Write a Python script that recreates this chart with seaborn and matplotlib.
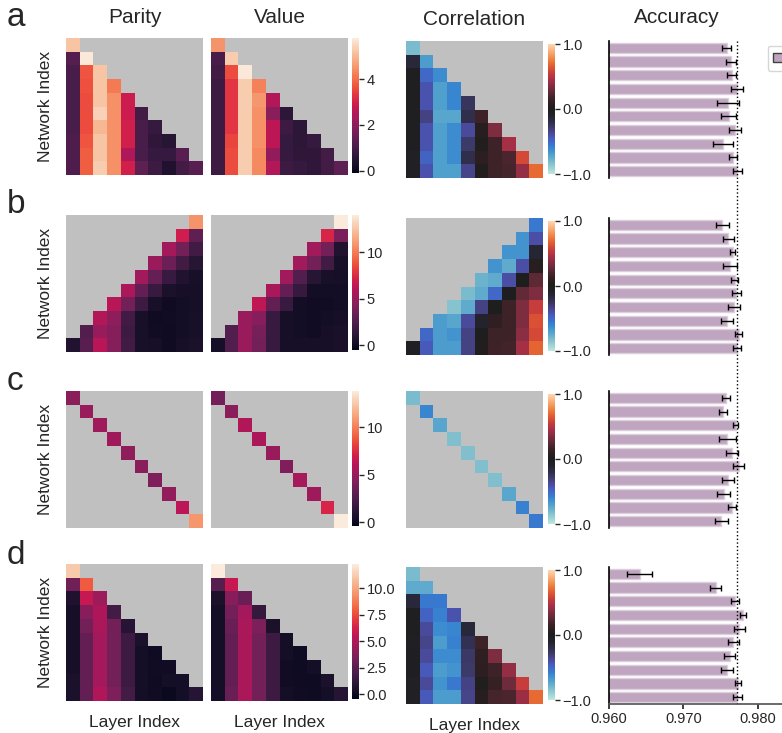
import numpy as np
import matplotlib
matplotlib.use("Agg")
import matplotlib.pyplot as plt
import seaborn as sns
from matplotlib.patches import Patch
from matplotlib.ticker import FuncFormatter

# ---------------------------------------------------------------- data
layers = list(range(10))
networks = list(range(10))

# a: lower triangle (network i spans layers 0..i)
parity_a = [
    [5.2],
    [1.2, 5.75],
    [1.05, 3.7, 5.2],
    [1.05, 3.65, 5.2, 4.15],
    [1.05, 3.6, 5.2, 4.45, 2.85],
    [1.05, 3.6, 5.4, 4.45, 2.85, 0.95],
    [1.05, 3.6, 5.0, 4.45, 2.95, 1.05, 0.75],
    [1.1, 3.7, 5.2, 4.45, 2.95, 1.05, 0.65, 0.5],
    [1.1, 3.8, 5.2, 4.45, 2.45, 1.05, 0.75, 0.75, 1.25],
    [1.1, 3.8, 5.3, 4.45, 2.95, 1.35, 0.85, 0.4, 0.95, 1.25],
]
value_a = [
    [4.5],
    [1.05, 5.3],
    [0.95, 3.6, 5.75],
    [0.85, 3.3, 5.3, 4.25],
    [0.85, 3.3, 5.3, 4.55, 2.5],
    [0.85, 3.3, 5.3, 4.45, 1.95, 0.6],
    [0.85, 3.3, 5.3, 4.45, 2.65, 0.85, 0.6],
    [0.85, 3.5, 5.3, 4.45, 2.65, 0.75, 0.6, 0.75],
    [0.85, 3.6, 5.3, 4.35, 2.05, 0.75, 0.65, 0.65, 0.95],
    [0.85, 3.6, 5.3, 4.35, 2.5, 0.85, 0.75, 0.65, 0.95, 1.35],
]
corr_a = [
    [-0.82],
    [-0.15, -0.68],
    [-0.03, -0.50, -0.62],
    [-0.03, -0.42, -0.70, -0.60],
    [-0.03, -0.42, -0.70, -0.60, -0.25],
    [-0.03, -0.33, -0.72, -0.72, -0.20, 0.15],
    [-0.03, -0.42, -0.70, -0.62, -0.38, 0.05, 0.35],
    [-0.04, -0.42, -0.70, -0.62, -0.28, 0.03, 0.15, 0.45],
    [-0.06, -0.48, -0.70, -0.62, -0.20, 0.08, 0.15, 0.20, 0.60],
    [-0.06, -0.42, -0.70, -0.70, -0.35, 0.03, 0.15, 0.18, 0.40, 0.70],
]

# b: upper-right triangle (network i spans layers 9-i..9)
parity_b = [
    [10.8],
    [6.9, 3.1],
    [5.4, 3.8, 2.0],
    [5.1, 3.5, 2.0, 1.0],
    [5.3, 3.3, 1.7, 0.8, 0.45],
    [5.6, 3.2, 1.7, 0.55, 0.35, 0.35],
    [6.1, 3.8, 1.8, 0.45, 0.1, 0.2, 0.35],
    [5.9, 4.7, 2.0, 0.45, 0.1, 0.15, 0.2, 0.45],
    [2.6, 5.0, 4.4, 1.8, 0.45, 0.15, 0.1, 0.2, 0.45],
    [0.8, 2.8, 6.1, 4.4, 2.0, 0.45, 0.35, 0.1, 0.35, 0.55],
]
value_b = [
    [14.0],
    [7.3, 4.0],
    [5.3, 3.8, 0.8],
    [5.3, 3.8, 2.0, 0.45],
    [5.3, 2.6, 1.0, 0.45, 0.35],
    [5.6, 3.2, 1.6, 0.2, 0.2, 0.2],
    [6.3, 3.2, 1.7, 0.2, 0.15, 0.15, 0.2],
    [5.1, 4.4, 1.7, 0.35, 0.2, 0.15, 0.2, 0.35],
    [2.6, 5.1, 3.9, 1.7, 0.35, 0.2, 0.15, 0.35, 0.5],
    [0.35, 2.6, 5.1, 3.8, 1.7, 0.35, 0.35, 0.35, 0.35, 0.5],
]
corr_b = [
    [-0.55],
    [-0.65, -0.40],
    [-0.65, -0.65, -0.13],
    [-0.65, -0.75, -0.40, 0.05],
    [-0.78, -0.75, -0.40, 0.00, 0.25],
    [-0.82, -0.75, -0.50, 0.00, 0.27, 0.35],
    [-0.85, -0.75, -0.33, 0.00, 0.15, 0.35, 0.55],
    [-0.68, -0.72, -0.38, -0.10, 0.10, 0.15, 0.35, 0.62],
    [-0.50, -0.68, -0.65, -0.33, 0.00, 0.15, 0.15, 0.38, 0.60],
    [-0.05, -0.45, -0.68, -0.68, -0.33, 0.03, 0.15, 0.17, 0.45, 0.68],
]

# c: diagonal only
parity_c = [4.5, 5.0, 5.25, 5.25, 4.75, 4.5, 4.2, 4.85, 6.2, 10.7]
value_c = [3.8, 4.5, 5.75, 5.55, 5.0, 4.2, 5.45, 5.25, 7.2, 13.8]
corr_c = [-0.82, -0.60, -0.72, -0.83, -0.83, -0.83, -0.83, -0.73, -0.58, -0.55]

# d: lower triangle
parity_d = [
    [11.2],
    [3.2, 7.9],
    [0.6, 5.8, 4.5],
    [0.3, 3.9, 5.0, 1.8],
    [0.3, 3.3, 4.9, 3.3, 0.8],
    [0.3, 2.8, 4.7, 3.3, 1.6, 0.45],
    [0.3, 2.8, 4.7, 3.3, 1.6, 0.2, 0.0],
    [0.3, 2.8, 4.7, 3.3, 1.6, 0.2, 0.1, 0.1],
    [0.45, 2.8, 4.7, 3.3, 1.6, 0.2, 0.0, 0.2, 0.2],
    [0.45, 2.8, 5.1, 3.6, 1.8, 0.2, 0.1, -0.1, 0.2, 0.8],
]
value_d = [
    [12.3],
    [2.4, 5.8],
    [0.45, 3.9, 3.0],
    [0.2, 3.3, 4.7, 1.3],
    [0.2, 3.0, 4.9, 3.6, 0.45],
    [0.2, 2.8, 4.9, 3.3, 1.6, 0.2],
    [0.2, 2.8, 4.9, 3.3, 1.6, 0.2, 0.0],
    [0.2, 2.8, 4.9, 3.3, 1.6, 0.1, 0.0, 0.2],
    [0.2, 2.8, 4.9, 3.3, 1.6, 0.1, 0.0, 0.0, 0.45],
    [0.2, 3.0, 4.9, 3.3, 1.6, 0.2, 0.1, 0.0, 0.2, 0.8],
]
corr_d = [
    [-0.82],
    [-0.75, -0.75],
    [-0.15, -0.55, -0.55],
    [-0.03, -0.48, -0.58, -0.42],
    [-0.03, -0.38, -0.62, -0.60, -0.15],
    [-0.05, -0.35, -0.68, -0.58, -0.22, 0.15],
    [-0.03, -0.38, -0.62, -0.62, -0.27, 0.10, 0.35],
    [-0.04, -0.45, -0.68, -0.65, -0.28, 0.08, 0.15, 0.40],
    [-0.06, -0.38, -0.65, -0.55, -0.33, 0.02, 0.12, 0.30, 0.55],
    [-0.06, -0.45, -0.68, -0.68, -0.35, 0.05, 0.18, 0.20, 0.42, 0.70],
]

# accuracy: mean and error half-width per network
acc_a = [0.9758, 0.9764, 0.9765, 0.9772, 0.9760, 0.9761, 0.9769, 0.9753, 0.9767, 0.9772]
err_a = [0.0006, 0.0007, 0.0006, 0.00085, 0.0015, 0.0010, 0.00076, 0.00136, 0.00054, 0.0006]
acc_b = [0.9752, 0.9760, 0.9766, 0.9762, 0.9769, 0.9771, 0.9768, 0.9758, 0.9774, 0.9772]
err_b = [0.00087, 0.00076, 0.00036, 0.00092, 0.00047, 0.0006, 0.00085, 0.0008, 0.00045, 0.00056]
acc_c = [0.9757, 0.9753, 0.9770, 0.9759, 0.9765, 0.9774, 0.9760, 0.9754, 0.9765, 0.9751]
err_c = [0.00054, 0.00051, 0.00038, 0.0012, 0.0008, 0.0007, 0.00078, 0.00085, 0.0005, 0.0009]
acc_d = [0.9641, 0.9743, 0.9769, 0.9780, 0.9775, 0.9767, 0.9762, 0.9758, 0.9773, 0.9772]
err_d = [0.00168, 0.00078, 0.0005, 0.00036, 0.00074, 0.00072, 0.0007, 0.00083, 0.00043, 0.0006]
acc_reference = 0.9772

panel_letters = ["a", "b", "c", "d"]
col_titles = ["Parity", "Value", "Correlation", "Accuracy"]
cbar_ticks = [[0, 2, 4], [0, 5, 10], [0, 5, 10], [0.0, 2.5, 5.0, 7.5, 10.0]]
cbar_limits = [(-0.1, 5.8), (-0.5, 14.0), (-0.4, 13.8), (-0.45, 12.3)]
corr_ticks = [-1.0, 0.0, 1.0]
acc_ticks = [0.960, 0.970, 0.980]

# ---------------------------------------------------------------- style
sns.set_theme(style="ticks")
plt.rcParams["font.family"] = ["Liberation Sans", "DejaVu Sans"]
plt.rcParams["axes.unicode_minus"] = True

W, H = 782, 733
fig = plt.figure(figsize=(W / 100, H / 100), dpi=100)


def px_axes(x, y, w, h):
    return fig.add_axes([x / W, 1 - (y + h) / H, w / W, h / H])


def build(rows, kind):
    m = np.full((10, 10), np.nan)
    for i, vals in enumerate(rows):
        if kind == "lower":
            cols = list(range(0, i + 1))
        elif kind == "anti":
            cols = list(range(9 - i, 10))
        else:
            cols = [i]
            vals = [vals]
        m[i, cols] = vals
    return m


def one_decimal(v, _):
    return f"{v:.1f}".replace("-", "\u2212")


def plain(v, _):
    return f"{v:g}".replace("-", "\u2212")


panels = [
    (parity_a, value_a, corr_a, acc_a, err_a, "lower"),
    (parity_b, value_b, corr_b, acc_b, err_b, "anti"),
    (parity_c, value_c, corr_c, acc_c, err_c, "diag"),
    (parity_d, value_d, corr_d, acc_d, err_d, "lower"),
]

hm_tops = [38, 215, 391, 564]
side_tops = [41, 218, 391, 567]
letter_base = [26, 213, 390, 564]
HS = 137
bar_color = "#bfa5bf"
grey_bg = "#c0c0c0"
cb_fmt = [plain, plain, plain, one_decimal]

for r, (par, val, cor, acc, err, kind) in enumerate(panels):
    top = hm_tops[r]
    stop = side_tops[r]
    vmin, vmax = cbar_limits[r]
    last = r == 3

    ax_p = px_axes(66, top, HS, HS)
    ax_v = px_axes(211, top, HS, HS)
    cax_pv = px_axes(352, top, 7, HS - 2)
    ax_c = px_axes(406, stop, HS, HS)
    cax_c = px_axes(548, stop + 3, 7, HS - 7)
    ax_a = px_axes(609, stop, 200, HS)

    sns.heatmap(build(par, kind), ax=ax_p, cmap="rocket", vmin=vmin, vmax=vmax,
                cbar=False, xticklabels=False, yticklabels=False)
    sns.heatmap(build(val, kind), ax=ax_v, cmap="rocket", vmin=vmin, vmax=vmax,
                cbar_ax=cax_pv, xticklabels=False, yticklabels=False)
    sns.heatmap(build(cor, kind), ax=ax_c, cmap="icefire", vmin=-1, vmax=1,
                cbar_ax=cax_c, xticklabels=False, yticklabels=False)

    for ax in (ax_p, ax_v, ax_c):
        ax.set_facecolor(grey_bg)

    for cax, ticks, fmt in ((cax_pv, cbar_ticks[r], cb_fmt[r]),
                            (cax_c, corr_ticks, one_decimal)):
        cax.yaxis.set_ticks(ticks)
        cax.yaxis.set_major_formatter(FuncFormatter(fmt))
        cax.tick_params(axis="y", length=3.5, width=1, labelsize=10.5, pad=2,
                        colors="0.15")

    ax_p.set_ylabel("Network Index", fontsize=12.5, labelpad=9)

    if r == 0:
        ax_p.set_title(col_titles[0], fontsize=15, pad=10.6)
        ax_v.set_title(col_titles[1], fontsize=15, pad=10.6)
        ax_c.set_title(col_titles[2], fontsize=15, pad=11.5)
    if last:
        for ax in (ax_p, ax_v, ax_c):
            ax.set_xlabel("Layer Index", fontsize=12.5, labelpad=10)

    # accuracy bars with error bars
    sns.barplot(x=acc, y=networks, orient="h", color=bar_color, saturation=1,
                errorbar=None, width=0.75, edgecolor="#ddd0dd", linewidth=1,
                ax=ax_a)
    ax_a.errorbar(acc, networks, xerr=err, fmt="none", ecolor="black",
                  elinewidth=1, capsize=2, capthick=1)
    ax_a.set_xlim(0.960, 0.960 + 200 / 7450)
    ax_a.set_ylim(9.5, -0.5)
    ax_a.set_yticks([])
    ax_a.set_ylabel("")
    ax_a.axvline(acc_reference, ymin=0 if last else -0.3, ymax=1, color="black",
                 linestyle=":", linewidth=1, clip_on=False)
    for s in ("top", "right"):
        ax_a.spines[s].set_visible(False)
    ax_a.spines["left"].set_color("black")
    ax_a.spines["left"].set_linewidth(1.2)
    if last:
        ax_a.set_xticks(acc_ticks)
        ax_a.xaxis.set_major_formatter(FuncFormatter(lambda v, _: f"{v:.3f}"))
        ax_a.tick_params(axis="x", labelsize=10.5, length=3.5, pad=2, colors="0.15")
        ax_a.spines["bottom"].set_color("0.35")
    else:
        ax_a.set_xticks([])
        ax_a.spines["bottom"].set_visible(False)
    if r == 0:
        ax_a.set_title(col_titles[3], fontsize=15, pad=12.7,
                       x=(677.3 - 609) / 200)
        fig.legend(handles=[Patch(facecolor=bar_color, edgecolor="0.25", linewidth=1)],
                   labels=[""], loc="upper left",
                   bbox_to_anchor=(767.7 / W, 1 - 45.7 / H), borderaxespad=0,
                   frameon=True, edgecolor="0.8", fontsize=10)

    fig.text(7 / W, 1 - letter_base[r] / H, panel_letters[r], fontsize=24,
             va="baseline", ha="left")

fig.savefig("out.png", dpi=100)
